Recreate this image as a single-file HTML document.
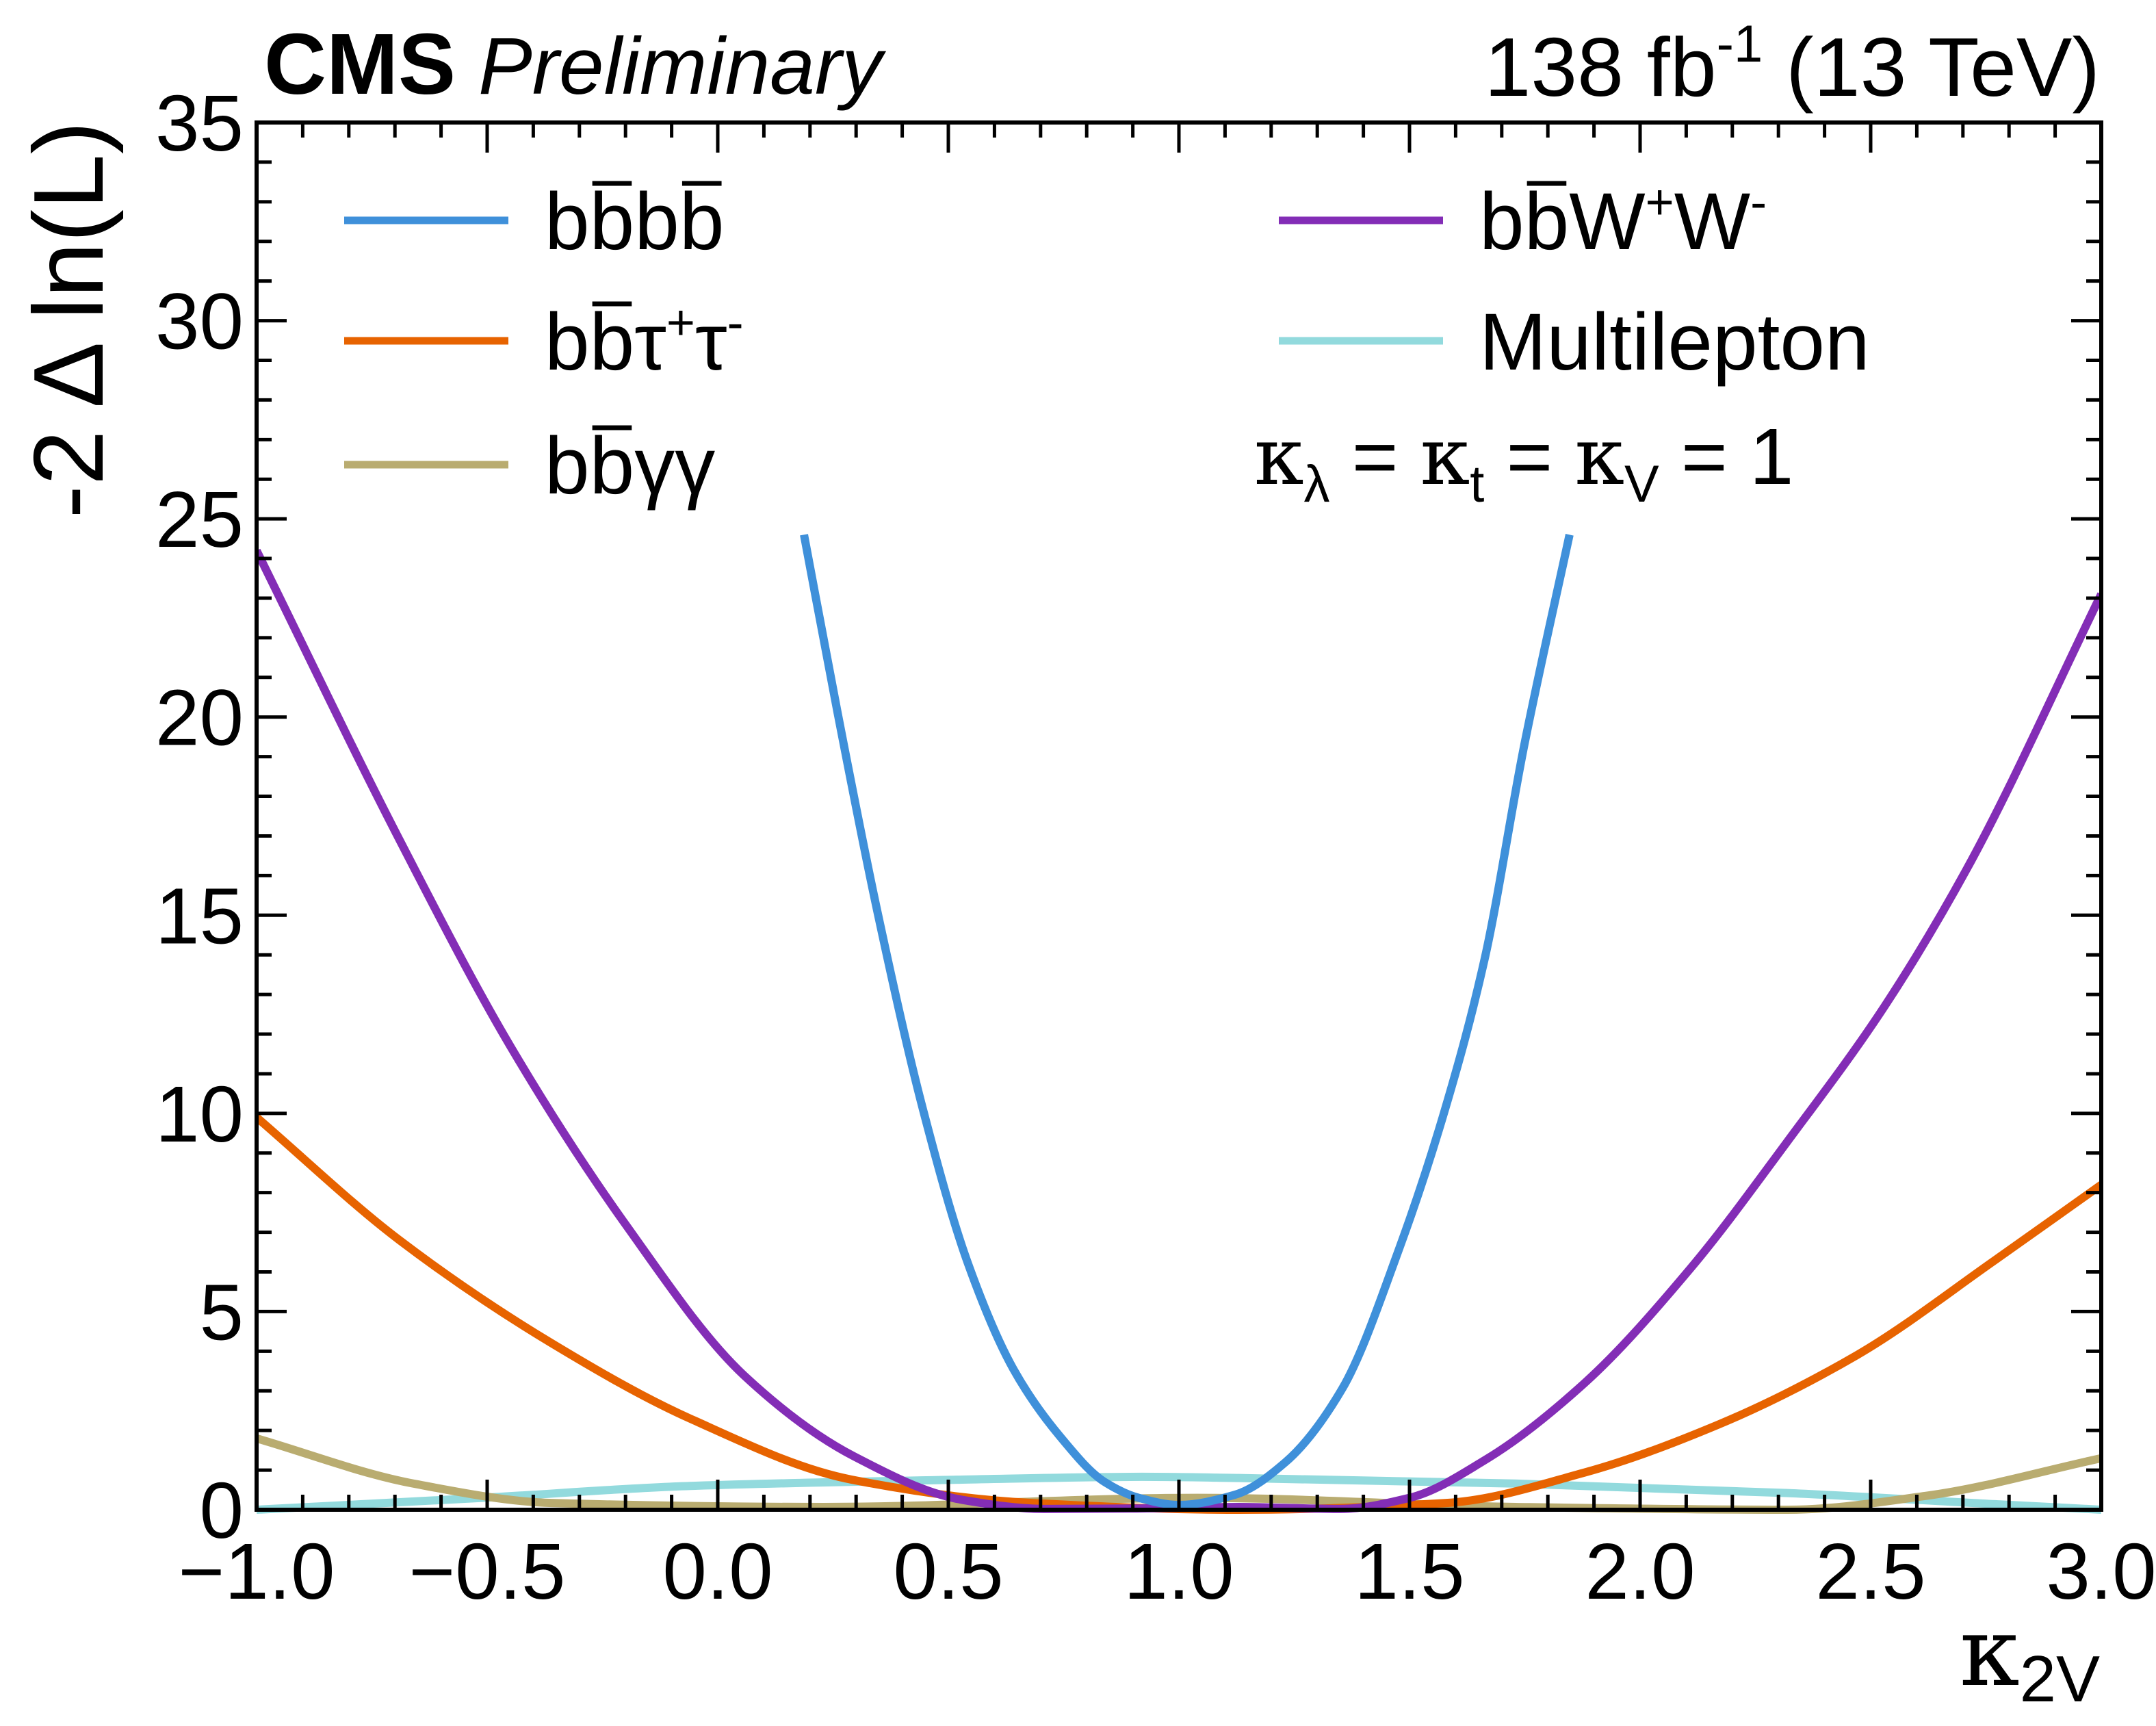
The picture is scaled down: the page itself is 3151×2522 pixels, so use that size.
<!DOCTYPE html>
<html><head><meta charset="utf-8"><style>
html,body{margin:0;padding:0;background:#fff}
svg{display:block;font-family:"Liberation Sans",sans-serif}
</style></head><body>
<svg id="chart" width="3151" height="2522" viewBox="0 0 3151 2522">
<g id="curves"></g>
<g id="axes"></g>
<text x="386" y="137" font-size="126" font-weight="bold">CMS</text>
<text x="699" y="137" font-size="118" font-style="italic">Preliminary</text>
<text x="3069" y="140" font-size="122" text-anchor="end">138 fb<tspan dy="-50" font-size="76">-1</tspan><tspan dy="50"> (13 TeV)</tspan></text>
<text transform="translate(150,177) rotate(-90)" font-size="145" text-anchor="end">-2 Δ ln(L)</text>
<text x="3069" y="2462" font-size="140" text-anchor="end" font-family="'DejaVu Serif',serif">κ<tspan dy="24" font-size="96" font-family="'Liberation Sans',sans-serif">2V</tspan></text>
<g id="legend"></g>
<text x="1833" y="707" font-size="116"><tspan font-family="'DejaVu Serif',serif">κ</tspan><tspan dy="26" font-size="76">λ</tspan><tspan dy="-26"> = </tspan><tspan font-family="'DejaVu Serif',serif">κ</tspan><tspan dy="26" font-size="76">t</tspan><tspan dy="-26"> = </tspan><tspan font-family="'DejaVu Serif',serif">κ</tspan><tspan dy="26" font-size="76">V</tspan><tspan dy="-26"> = 1</tspan></text>
</svg>
<script>
const bbbbX=[0.187,0.26,0.346,0.445,0.543,0.641,0.74,0.839,0.913,1.0,1.122,1.231,1.354,1.478,1.577,1.663,1.749,1.847];
const bbbbY=[24.6,20.1,15.1,10.1,6.2,3.55,1.88,0.7,0.3,0.12,0.38,1.2,3.05,6.6,10.1,13.9,19.3,24.6];
const bbwwX=[-1,-0.69,-0.45,-0.2,0.056,0.295,0.53,0.71,0.9,1.13,1.35,1.5,1.67,1.88,2.11,2.32,2.53,2.71,3.0];
const bbwwY=[24.2,16.9,11.7,7.2,3.4,1.35,0.25,0.02,0.03,0.07,0.02,0.3,1.3,3.2,6.1,9.3,12.7,16.2,23.1];
const bbttX=[-1,-0.69,-0.36,-0.06,0.29,0.68,1.13,1.58,1.88,2.17,2.47,2.77,3.0];
const bbttY=[9.9,6.8,4.2,2.3,0.76,0.17,0.0,0.17,0.94,2.15,3.9,6.3,8.2];
const bbggX=[-1,-0.66,-0.36,0.23,1.04,1.73,2.32,2.62,3.0];
const bbggY=[1.8,0.66,0.17,0.07,0.3,0.07,0.0,0.35,1.3];
const mlX=[-1,-0.51,-0.06,0.53,0.92,1.13,1.73,2.32,2.77,3.0];
const mlY=[0.0,0.3,0.6,0.76,0.83,0.8,0.66,0.42,0.14,0.0];
const xTicks=[-1,-0.5,0,0.5,1,1.5,2,2.5,3];
const xTickLabels=["\u22121.0","\u22120.5","0.0","0.5","1.0","1.5","2.0","2.5","3.0"];
const yTicks=[0,5,10,15,20,25,30,35];
const yTickLabels=["0","5","10","15","20","25","30","35"];

const L=375,R=3071,T=179,B=2206;
const sx=v=>L+(v+1)/4*(R-L);
const sy=v=>B-v/35*(B-T);
const NS="http://www.w3.org/2000/svg";
function mk(tag,attrs,parent){const e=document.createElementNS(NS,tag);for(const k in attrs)e.setAttribute(k,attrs[k]);parent.appendChild(e);return e;}

// monotone cubic (Fritsch-Carlson) path
function pathD(xs,ys){
  const X=xs.map(sx),Y=ys.map(sy),n=X.length;
  const d=[],m=new Array(n);
  for(let i=0;i<n-1;i++)d.push((Y[i+1]-Y[i])/(X[i+1]-X[i]));
  m[0]=d[0];m[n-1]=d[n-2];
  for(let i=1;i<n-1;i++){
    if(d[i-1]*d[i]<=0)m[i]=0;
    else{const h0=X[i]-X[i-1],h1=X[i+1]-X[i];const w1=2*h1+h0,w2=h1+2*h0;m[i]=(w1+w2)/(w1/d[i-1]+w2/d[i]);}
  }
  let s="M"+X[0]+","+Y[0];
  for(let i=0;i<n-1;i++){
    const h=(X[i+1]-X[i])/3;
    s+=" C"+(X[i]+h)+","+(Y[i]+m[i]*h)+" "+(X[i+1]-h)+","+(Y[i+1]-m[i+1]*h)+" "+X[i+1]+","+Y[i+1];
  }
  return s;
}
const svg=document.getElementById('chart');
const defs=mk('defs',{},svg);
const cp=mk('clipPath',{id:'clip'},defs);
mk('rect',{x:L,y:T,width:R-L,height:B-T+14},cp);
const cg=document.getElementById('curves');
cg.setAttribute('clip-path','url(#clip)');
const series=[
 [mlX,mlY,'#92dadd','multilepton-curve'],
 [bbggX,bbggY,'#b9ac70','bbgg-curve'],
 [bbttX,bbttY,'#e76300','bbtautau-curve'],
 [bbwwX,bbwwY,'#832db6','bbww-curve'],
 [bbbbX,bbbbY,'#3f90da','bbbb-curve']
];
series.forEach(s=>{
  const e=mk('path',{d:pathD(s[0],s[1]),fill:'none',stroke:s[2],'stroke-width':12,'stroke-linejoin':'round'},cg);
  
  
});

const ag=document.getElementById('axes');
const fr=mk('rect',{x:L,y:T,width:R-L,height:B-T,fill:'none',stroke:'#000','stroke-width':6},ag);


for(let i=0;i<=40;i++){
  const v=-1+i*0.1,x=sx(v),len=(i%5===0)?44:22;
  mk('line',{x1:x,y1:B,x2:x,y2:B-len,stroke:'#000','stroke-width':5},ag);
  mk('line',{x1:x,y1:T,x2:x,y2:T+len,stroke:'#000','stroke-width':5},ag);
}
for(let i=0;i<=35;i++){
  const y=sy(i),len=(i%5===0)?44:22;
  mk('line',{x1:L,y1:y,x2:L+len,y2:y,stroke:'#000','stroke-width':5},ag);
  mk('line',{x1:R,y1:y,x2:R-len,y2:y,stroke:'#000','stroke-width':5},ag);
}
xTicks.forEach((v,i)=>{
  const t=mk('text',{x:sx(v),y:2336,'font-size':116,'text-anchor':'middle'},ag);
  t.textContent=xTickLabels[i];
  
  
});
yTicks.forEach((v,i)=>{
  const t=mk('text',{x:356,y:sy(v)+41,'font-size':116,'text-anchor':'end'},ag);
  t.textContent=yTickLabels[i];
  
  
});

const lg=document.getElementById('legend');
const entries=[
 [503,322,'#3f90da','b<tspan class="ov">b</tspan>b<tspan class="ov">b</tspan>','legend-entry-bbbb'],
 [503,498,'#e76300','b<tspan class="ov">b</tspan>τ<tspan dy="-44" font-size="72">+</tspan><tspan dy="44">τ</tspan><tspan dy="-44" font-size="72">-</tspan>','legend-entry-bbtautau'],
 [503,679,'#b9ac70','b<tspan class="ov">b</tspan>γγ','legend-entry-bbgg'],
 [1869,322,'#832db6','b<tspan class="ov">b</tspan>W<tspan dy="-44" font-size="72">+</tspan><tspan dy="44">W</tspan><tspan dy="-44" font-size="72">-</tspan>','legend-entry-bbww'],
 [1869,498,'#92dadd','Multilepton','legend-entry-multilepton']
];
entries.forEach(e=>{
  const g=mk('g',{},lg);
  
  
  mk('line',{x1:e[0],y1:e[1],x2:e[0]+240,y2:e[1],stroke:e[2],'stroke-width':11},g);
  const t=mk('text',{x:e[0]+293,y:e[1]+42,'font-size':118},g);
  t.innerHTML=e[3];
  t.querySelectorAll('.ov').forEach(sp=>{
    const bb=sp.getBBox();
    mk('line',{x1:bb.x+4,y1:e[1]+42-96,x2:bb.x+bb.width-4,y2:e[1]+42-96,stroke:'#000','stroke-width':7},g);
  });
});
</script>
</body></html>
